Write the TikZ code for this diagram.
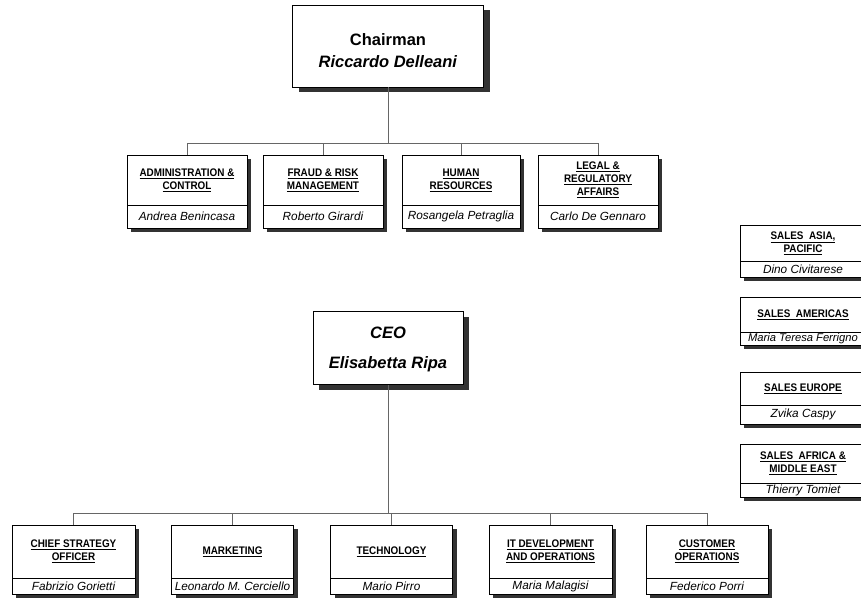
\documentclass[tikz,border=0pt]{standalone}
\usepackage{fontspec}
\setmainfont{Liberation Sans}
\newfontfamily\hdfont[FakeStretch=0.9]{Liberation Sans}
\usetikzlibrary{calc,shadows}

\newcommand{\hdl}[1]{\underline{#1}}
% unit box: name, x centre, top, divider, bottom, width, title, person
\newcommand{\unitbox}[8]{%
  \node[box,minimum width=#6pt,minimum height={(#5-#3)*1pt},anchor=north] (#1) at (#2,#3) {};
  \draw[rule] ({#2-#6/2},#4) -- ({#2+#6/2},#4);
  \node[ttl] (#1-t) at (#2,{(#3+#4)/2}) {#7};
  \node[who] (#1-n) at (#2,{(#4+#5)/2}) {#8};
}

\begin{document}
\begin{tikzpicture}[x=1pt,y=-1pt,
  box/.style={draw,line width=0.7pt,fill=white,inner sep=0pt,
    drop shadow={shadow xshift=4pt,shadow yshift=-4pt,fill=black!80,opacity=1}},
  bigbox/.style={draw,line width=0.7pt,fill=white,inner sep=0pt,
    drop shadow={shadow xshift=6pt,shadow yshift=-5pt,fill=black!80,opacity=1}},
  bigtxt/.style={align=center,inner sep=0pt,font=\bfseries\fontsize{16.5}{22}\selectfont},
  ttl/.style={font=\hdfont\bfseries\fontsize{11}{13}\selectfont,align=center,inner sep=0pt},
  who/.style={font=\itshape\fontsize{11.8}{13}\selectfont,inner sep=0pt},
  rule/.style={line width=0.6pt},
  conn/.style={draw=black!60,line width=0.5pt}]
  \fill[white] (0,0) rectangle (861,597);
  \useasboundingbox (0,0) rectangle (861,597);

  % board level
  \node[bigbox,minimum width=191pt,minimum height=82pt] (chair) at (388,46) {};
  \node[bigtxt] (chair-t) at (388,51) {Chairman\\\textit{Riccardo Delleani}};
  \unitbox{adm}{187}{155}{205}{228}{120}{\hdl{ADMINISTRATION \&}\\\hdl{CONTROL}}{Andrea Benincasa}
  \unitbox{fraud}{323}{155}{205}{228}{120}{\hdl{FRAUD \& RISK}\\\hdl{MANAGEMENT}}{Roberto Girardi}
  \unitbox{hr}{461}{155}{205}{228}{118}{\hdl{HUMAN}\\\hdl{RESOURCES}}{Rosangela Petraglia}
  \unitbox{legal}{598}{155}{205}{228}{120}{\hdl{LEGAL \&}\\\hdl{REGULATORY}\\\hdl{AFFAIRS}}{Carlo De Gennaro}

  \coordinate (bus1) at (388,143);
  \draw[conn] (chair.south) -- (bus1);
  \draw[conn] (adm.north) -- (adm.north|-bus1) -- (legal.north|-bus1) -- (legal.north);
  \foreach \n in {fraud,hr}
    \draw[conn] (\n.north) -- (\n.north|-bus1);

  % sales regions
  \unitbox{asia}{803}{225}{261}{277}{126}{\hdl{SALES\ \ ASIA,}\\\hdl{PACIFIC}}{Dino Civitarese}
  \unitbox{amer}{803}{297}{332}{345}{126}{\hdl{SALES\ \ AMERICAS}}{\fontsize{11.2}{13}\selectfont Maria Teresa Ferrigno}
  \unitbox{eur}{803}{372}{405}{424}{126}{\hdl{SALES EUROPE}}{Zvika Caspy}
  \unitbox{afr}{803}{444}{483}{497}{126}{\hdl{SALES\ \ AFRICA \&}\\\hdl{MIDDLE EAST}}{Thierry Tomiet}

  % management
  \node[bigbox,minimum width=150pt,minimum height=73pt] (ceo) at (388,348) {};
  \node[bigtxt,font=\bfseries\itshape\fontsize{16.5}{30}\selectfont] (ceo-t) at (388,349)
    {CEO\\Elisabetta Ripa};
  \unitbox{cso}{73.5}{525}{578}{594}{123}{\hdl{CHIEF STRATEGY}\\\hdl{OFFICER}}{Fabrizio Gorietti}
  \unitbox{mkt}{232.5}{525}{578}{594}{122}{\hdl{MARKETING}}{Leonardo M. Cerciello}
  \unitbox{tech}{391.5}{525}{578}{594}{122}{\hdl{TECHNOLOGY}}{Mario Pirro}
  \unitbox{itd}{550.5}{525}{578}{594}{123}{\hdl{IT DEVELOPMENT}\\\hdl{AND OPERATIONS}}{Maria Malagisi}
  \unitbox{cust}{707}{525}{578}{594}{122}{\hdl{CUSTOMER}\\\hdl{OPERATIONS}}{Federico Porri}

  \coordinate (bus2) at (388,513);
  \draw[conn] (ceo.south) -- (bus2);
  \draw[conn] (cso.north) -- (cso.north|-bus2) -- (cust.north|-bus2) -- (cust.north);
  \foreach \n in {mkt,tech,itd}
    \draw[conn] (\n.north) -- (\n.north|-bus2);
\end{tikzpicture}
\end{document}
